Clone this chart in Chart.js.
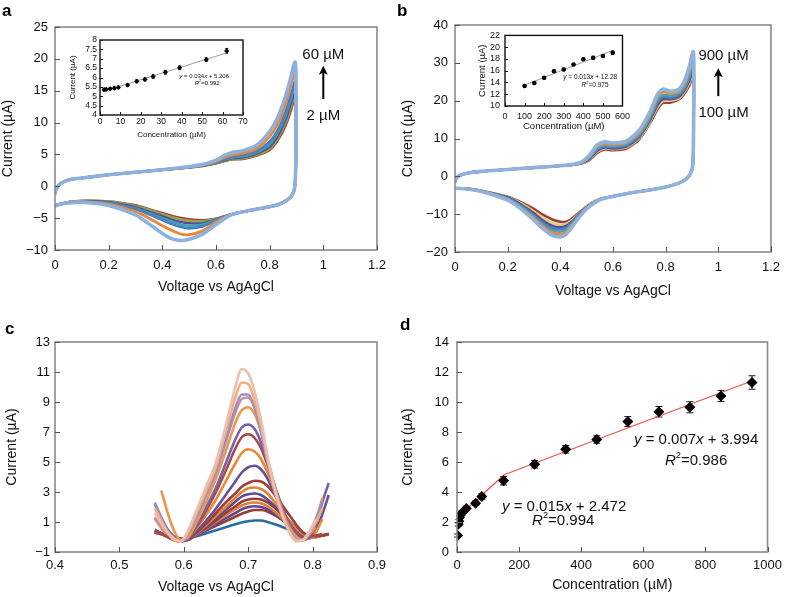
<!DOCTYPE html>
<html>
<head>
<meta charset="utf-8">
<script src="https://cdn.jsdelivr.net/npm/chart.js@4.4.0/dist/chart.umd.min.js"></script>
<style>
  body { margin: 0; background: #fff; width: 788px; height: 597px; overflow: hidden; position: relative; }
  canvas { position: absolute; }
  .lettre { position: absolute; font: bold 17px 'Liberation Sans', Arial, sans-serif; color: #000; line-height: 1; }
</style>
</head>
<body>
<canvas id="pa" width="394" height="300" style="left:0;top:0"></canvas>
<canvas id="pb" width="394" height="300" style="left:394px;top:0"></canvas>
<canvas id="pc" width="394" height="297" style="left:0;top:300px"></canvas>
<canvas id="pd" width="394" height="297" style="left:394px;top:300px"></canvas>
<canvas id="ia" width="190" height="115" style="left:60px;top:30px"></canvas>
<canvas id="ib" width="170" height="110" style="left:465px;top:25px"></canvas>
<div class="lettre" style="left:2px;top:2px">a</div>
<div class="lettre" style="left:397px;top:2px">b</div>
<div class="lettre" style="left:5px;top:320px">c</div>
<div class="lettre" style="left:400px;top:316px">d</div>
<script>
// ── DONNÉES PANNEAU A (voltammétrie cyclique, 2 → 60 µM) ──
const aValler  = [0, 0.005, 0.02, 0.05, 0.1, 0.2, 0.3, 0.4, 0.5, 0.55, 0.6, 0.63, 0.66, 0.7, 0.75, 0.8, 0.83, 0.86, 0.88, 0.89, 0.895];
const aVretour = [0.898, 0.898, 0.895, 0.89, 0.88, 0.86, 0.83, 0.8, 0.75, 0.7, 0.65, 0.6, 0.55, 0.5, 0.47, 0.44, 0.4, 0.35, 0.3, 0.2, 0.1, 0.05, 0.02, 0];
const aBleuClair_aller  = [-1.3, -0.4, 0.4, 1.0, 1.3, 1.8, 2.2, 2.6, 3.1, 3.4, 4.1, 4.8, 5.3, 5.6, 6.4, 8.6, 10.8, 14.2, 17.3, 19.0, 19.5];
const aBleuClair_retour = [17.5, 6.0, 0.5, -0.8, -1.6, -2.3, -2.9, -3.2, -3.6, -4.0, -4.6, -6.0, -7.5, -8.3, -8.5, -8.3, -7.4, -5.9, -4.5, -3.0, -2.5, -2.6, -2.8, -3.1];
const aOrange_aller  = [-1.2, -0.4, 0.4, 1.0, 1.3, 1.8, 2.2, 2.6, 3.05, 3.35, 3.9, 4.5, 4.9, 5.2, 5.9, 7.8, 9.8, 13.0, 15.9, 17.5, 18.0];
const aOrange_retour = [16.0, 5.5, 0.5, -0.8, -1.6, -2.3, -2.9, -3.2, -3.6, -4.0, -4.5, -5.6, -7.0, -7.6, -7.5, -7.0, -6.2, -5.0, -4.0, -2.8, -2.4, -2.5, -2.8, -3.0];
const aBleu_aller  = [-1.2, -0.4, 0.4, 1.0, 1.3, 1.8, 2.2, 2.6, 3.0, 3.3, 3.8, 4.3, 4.6, 4.9, 5.5, 7.0, 8.8, 11.8, 14.5, 16.0, 16.5];
const aBleu_retour = [14.5, 5.0, 0.5, -0.8, -1.6, -2.3, -2.9, -3.2, -3.6, -4.0, -4.5, -5.4, -6.3, -6.6, -6.4, -6.0, -5.3, -4.4, -3.6, -2.6, -2.4, -2.5, -2.8, -3.0];
const aTurquoise_aller  = [-1.2, -0.4, 0.4, 1.0, 1.3, 1.8, 2.2, 2.6, 3.0, 3.3, 3.75, 4.2, 4.5, 4.7, 5.3, 6.6, 8.4, 11.2, 13.8, 15.3, 15.8];
const aTurquoise_retour = [13.8, 4.8, 0.5, -0.8, -1.6, -2.3, -2.9, -3.2, -3.6, -4.0, -4.5, -5.3, -6.0, -6.2, -6.0, -5.6, -5.0, -4.2, -3.5, -2.6, -2.4, -2.5, -2.8, -3.0];
const aViolet_aller  = [-1.2, -0.4, 0.4, 1.0, 1.3, 1.8, 2.2, 2.6, 3.0, 3.25, 3.7, 4.1, 4.4, 4.55, 5.1, 6.2, 7.9, 10.6, 13.1, 14.6, 15.0];
const aViolet_retour = [13.0, 4.5, 0.5, -0.8, -1.6, -2.3, -2.9, -3.2, -3.6, -4.0, -4.5, -5.2, -5.8, -5.8, -5.6, -5.3, -4.7, -4.0, -3.3, -2.5, -2.3, -2.5, -2.8, -3.0];
const aVert_aller  = [-1.2, -0.4, 0.4, 1.0, 1.3, 1.8, 2.2, 2.6, 2.95, 3.2, 3.6, 4.0, 4.25, 4.4, 4.9, 5.9, 7.5, 10.0, 12.5, 14.0, 14.4];
const aVert_retour = [12.5, 4.3, 0.5, -0.8, -1.6, -2.3, -2.9, -3.2, -3.6, -4.0, -4.5, -5.1, -5.5, -5.4, -5.2, -4.9, -4.4, -3.7, -3.1, -2.4, -2.3, -2.5, -2.8, -3.0];
const aRouge_aller  = [-1.2, -0.4, 0.4, 1.0, 1.3, 1.8, 2.2, 2.6, 2.95, 3.2, 3.6, 3.95, 4.2, 4.3, 4.8, 5.7, 7.2, 9.6, 12.0, 13.5, 13.9];
const aRouge_retour = [12.0, 4.0, 0.5, -0.8, -1.6, -2.3, -2.9, -3.2, -3.6, -4.0, -4.5, -5.1, -5.35, -5.2, -5.0, -4.7, -4.2, -3.6, -3.0, -2.4, -2.3, -2.5, -2.8, -3.0];
const aTicksX = [0, 0.2, 0.4, 0.6, 0.8, 1, 1.2];
const aTicksY = [-10, -5, 0, 5, 10, 15, 20, 25];

// ── DONNÉES PANNEAU B (100 → 900 µM) ──
const bValler  = [0, 0.005, 0.02, 0.05, 0.1, 0.2, 0.3, 0.4, 0.45, 0.48, 0.51, 0.54, 0.57, 0.6, 0.65, 0.7, 0.74, 0.77, 0.79, 0.82, 0.85, 0.87, 0.89, 0.9, 0.905];
const bVretour = [0.907, 0.906, 0.903, 0.895, 0.88, 0.85, 0.8, 0.75, 0.7, 0.65, 0.6, 0.55, 0.5, 0.47, 0.44, 0.42, 0.4, 0.37, 0.33, 0.3, 0.25, 0.2, 0.1, 0.05, 0.02, 0];
const bBleuClair_aller  = [-1.5, -0.5, 0.3, 0.9, 1.3, 1.8, 2.3, 2.8, 3.2, 3.8, 5.5, 8.3, 9.1, 8.8, 9.3, 12.2, 17.0, 21.8, 23.1, 22.5, 23.0, 25.0, 29.0, 32.0, 33.0];
const bBleuClair_retour = [30, 12, 3, 0.8, -0.6, -1.8, -2.8, -3.5, -4.0, -4.6, -5.3, -6.2, -8.6, -11.0, -13.8, -15.4, -16.0, -15.6, -13.6, -11.6, -8.6, -6.3, -4.0, -3.4, -3.2, -3.2];
const bOrange_aller  = [-1.5, -0.5, 0.3, 0.9, 1.3, 1.8, 2.3, 2.8, 3.2, 3.7, 5.2, 7.9, 8.6, 8.4, 8.9, 11.6, 16.3, 21.0, 22.3, 21.9, 22.4, 24.2, 27.8, 30.5, 31.3];
const bOrange_retour = [28.5, 11.5, 3, 0.8, -0.6, -1.8, -2.8, -3.5, -4.0, -4.6, -5.3, -6.2, -8.5, -10.8, -13.3, -14.8, -15.2, -14.9, -13.0, -11.1, -8.3, -6.1, -3.9, -3.4, -3.2, -3.2];
const bTurquoise_aller  = [-1.5, -0.5, 0.3, 0.9, 1.3, 1.8, 2.3, 2.8, 3.15, 3.6, 5.0, 7.5, 8.2, 8.0, 8.5, 11.1, 15.6, 20.2, 21.5, 21.3, 21.9, 23.5, 26.8, 29.4, 30.1];
const bTurquoise_retour = [27.5, 11, 3, 0.8, -0.6, -1.8, -2.8, -3.5, -4.0, -4.6, -5.3, -6.1, -8.4, -10.6, -12.9, -14.2, -14.6, -14.3, -12.6, -10.7, -8.0, -5.9, -3.9, -3.4, -3.2, -3.2];
const bBleu_aller  = [-1.5, -0.5, 0.3, 0.9, 1.3, 1.8, 2.3, 2.8, 3.15, 3.55, 4.8, 7.1, 7.9, 7.7, 8.2, 10.7, 15.1, 19.6, 21.0, 20.8, 21.4, 23.0, 26.0, 28.4, 29.0];
const bBleu_retour = [26.5, 11, 3, 0.8, -0.6, -1.8, -2.8, -3.5, -4.0, -4.6, -5.3, -6.1, -8.3, -10.4, -12.5, -13.7, -14.0, -13.7, -12.1, -10.3, -7.7, -5.8, -3.9, -3.4, -3.2, -3.2];
const bViolet_aller  = [-1.5, -0.5, 0.3, 0.9, 1.3, 1.8, 2.3, 2.8, 3.1, 3.5, 4.6, 6.8, 7.6, 7.4, 7.9, 10.4, 14.7, 19.0, 20.4, 20.4, 21.0, 22.6, 25.3, 27.6, 28.1];
const bViolet_retour = [25.8, 10.5, 3, 0.8, -0.6, -1.8, -2.8, -3.5, -4.0, -4.6, -5.3, -6.1, -8.2, -10.2, -12.2, -13.2, -13.5, -13.1, -11.5, -9.8, -7.4, -5.6, -3.8, -3.3, -3.2, -3.2];
const bJaune_aller  = [-1.5, -0.5, 0.3, 0.9, 1.3, 1.8, 2.3, 2.8, 3.1, 3.45, 4.45, 6.5, 7.35, 7.2, 7.6, 10.1, 14.3, 18.4, 19.9, 20.0, 20.6, 22.2, 24.7, 26.8, 27.2];
const bJaune_retour = [25, 10.5, 2.8, 0.8, -0.6, -1.8, -2.8, -3.5, -4.0, -4.6, -5.3, -6.0, -8.0, -10.0, -11.8, -12.6, -12.8, -12.4, -10.8, -9.3, -7.1, -5.5, -3.8, -3.3, -3.2, -3.2];
const bRouge_aller  = [-1.5, -0.5, 0.3, 0.9, 1.3, 1.8, 2.3, 2.8, 3.1, 3.4, 4.3, 6.2, 7.1, 6.9, 7.3, 9.8, 14.0, 17.8, 19.4, 19.5, 20.3, 21.8, 24.0, 25.8, 26.3];
const bRouge_retour = [24.0, 10.0, 2.5, 0.8, -0.6, -1.8, -2.8, -3.5, -4.0, -4.6, -5.3, -6.0, -7.9, -9.7, -11.4, -12.0, -12.0, -11.4, -10.0, -8.6, -6.8, -5.4, -3.8, -3.3, -3.2, -3.2];
const bTicksX = [0, 0.2, 0.4, 0.6, 0.8, 1, 1.2];
const bTicksY = [-20, -10, 0, 10, 20, 30, 40];

// ── DONNÉES PANNEAU C (voltammétrie différentielle) ──
const cV = [0.555, 0.565, 0.575, 0.585, 0.595, 0.605, 0.62, 0.635, 0.65, 0.665, 0.68, 0.69, 0.70, 0.71, 0.72, 0.73, 0.745, 0.76, 0.775, 0.785, 0.795, 0.805, 0.815, 0.825];
const c17 = [1.6, 0.9, 0.3, -0.1, -0.3, 0.3, 1.8, 3.4, 5.0, 7.4, 10.0, 11.2, 10.9, 9.7, 7.8, 5.4, 2.6, 0.7, -0.3, -0.2, 0.4, 1.2, null, null];
const c16 = [1.9, 1.1, 0.3, -0.2, -0.3, 0.2, 1.6, 3.1, 4.7, 7.0, 9.3, 10.3, 10.2, 9.1, 7.4, 5.2, 2.5, 0.7, -0.2, -0.2, 0.3, 1.0, 1.9, null];
const c15 = [2.3, 1.3, 0.4, -0.1, -0.3, 0.1, 1.4, 2.9, 4.4, 6.5, 8.6, 9.5, 9.5, 8.6, 7.0, 5.0, 2.4, 0.7, -0.2, -0.2, 0.3, 1.2, 2.4, null];
const c14 = [1.2, 0.7, 0.2, -0.2, -0.3, 0.1, 1.3, 2.8, 4.3, 6.3, 8.3, 9.2, 9.3, 8.6, 7.1, 5.2, 2.6, 0.8, -0.1, -0.2, 0.2, 0.6, null, null];
const c13 = [null, 3.1, 1.6, 0.4, -0.2, -0.1, 1.0, 2.4, 3.9, 5.7, 7.6, 8.45, 8.65, 8.2, 7.0, 5.3, 2.8, 1.0, 0.0, -0.2, 0.2, 1.0, 2.6, null];
const c12 = [2.2, 1.3, 0.5, 0.0, -0.3, -0.1, 0.8, 2.0, 3.3, 4.9, 6.5, 7.3, 7.5, 7.2, 6.3, 5.0, 2.9, 1.2, 0.1, -0.2, 0.0, 0.8, 2.3, 3.6];
const c11 = [0.4, 0.2, 0.0, -0.2, -0.3, -0.1, 0.7, 1.8, 3.0, 4.4, 5.9, 6.65, 6.85, 6.6, 5.9, 4.8, 2.9, 1.2, 0.2, -0.1, 0.0, 0.1, 0.2, null];
const c10 = [1.3, 0.6, 0.1, -0.2, -0.3, -0.1, 0.6, 1.5, 2.5, 3.7, 4.9, 5.6, 5.85, 5.7, 5.2, 4.3, 2.7, 1.2, 0.2, -0.1, -0.1, 0.3, 1.2, null];
const c09 = [0.5, 0.25, 0.0, -0.2, -0.3, -0.2, 0.4, 1.1, 1.9, 2.8, 3.7, 4.3, 4.65, 4.75, 4.5, 3.9, 2.5, 1.2, 0.3, 0.0, -0.1, 0.4, 1.5, 2.8];
const c08 = [0.4, 0.25, 0.05, -0.1, -0.2, -0.2, 0.3, 0.9, 1.6, 2.3, 2.9, 3.35, 3.6, 3.75, 3.7, 3.4, 2.6, 1.7, 0.8, 0.3, 0.1, 0.05, 0.1, 0.2];
const c07 = [0.4, 0.2, 0.05, -0.1, -0.2, -0.2, 0.25, 0.8, 1.4, 2.0, 2.6, 3.0, 3.25, 3.3, 3.2, 2.9, 2.1, 1.3, 0.5, 0.15, 0.0, 0.0, 0.1, 0.2];
const c06 = [0.35, 0.2, 0.05, -0.1, -0.2, -0.2, 0.2, 0.7, 1.25, 1.8, 2.35, 2.7, 2.85, 2.9, 2.8, 2.5, 1.9, 1.2, 0.5, 0.15, 0.0, 0.0, 0.1, 0.2];
const c05 = [0.3, 0.2, 0.1, 0.0, -0.2, -0.2, 0.2, 0.6, 1.1, 1.6, 2.05, 2.35, 2.5, 2.55, 2.5, 2.3, 1.8, 1.2, 0.6, 0.25, 0.1, 0.05, 0.1, 0.2];
const c04 = [0.3, 0.2, 0.1, 0.0, -0.2, -0.2, 0.15, 0.55, 1.0, 1.45, 1.85, 2.1, 2.25, 2.3, 2.25, 2.05, 1.55, 0.95, 0.4, 0.1, 0.0, 0.0, 0.1, 0.2];
const c03 = [0.3, 0.2, 0.1, 0.0, -0.15, -0.15, 0.1, 0.45, 0.85, 1.25, 1.6, 1.85, 2.0, 2.05, 2.0, 1.85, 1.4, 0.9, 0.4, 0.15, 0.0, 0.0, 0.1, 0.15];
const c02 = [0.3, 0.25, 0.1, 0.0, -0.1, -0.1, 0.15, 0.45, 0.75, 1.05, 1.35, 1.55, 1.7, 1.8, 1.8, 1.7, 1.35, 0.95, 0.5, 0.25, 0.1, 0.05, 0.1, 0.2];
const c01 = [null, null, null, null, null, -0.05, 0.05, 0.25, 0.45, 0.65, 0.85, 0.97, 1.05, 1.1, 1.1, 1.0, 0.8, 0.55, 0.3, 0.15, null, null, null, null];
const cTicksX = [0.4, 0.5, 0.6, 0.7, 0.8, 0.9];
const cTicksY = [-1, 1, 3, 5, 7, 9, 11, 13];

// ── DONNÉES PANNEAU D (étalonnage) ──
const dConc    = [2, 4, 6, 8, 10, 15, 30, 60, 80, 150, 250, 350, 450, 550, 650, 750, 850, 950];
const dCourant = [1.1, 1.85, 2.05, 2.3, 2.45, 2.6, 2.9, 3.25, 3.7, 4.75, 5.85, 6.85, 7.5, 8.7, 9.35, 9.65, 10.4, 11.3];
const dErreur  = [0.1, 0.12, 0.12, 0.12, 0.12, 0.12, 0.15, 0.15, 0.18, 0.28, 0.25, 0.25, 0.25, 0.33, 0.35, 0.37, 0.37, 0.45];
const dFit1X = [25, 152];
const dFit1Y = [2.75, 5.15];
const dFit2X = [152, 955];
const dFit2Y = [5.15, 11.45];
const dTicksX = [0, 200, 400, 600, 800, 1000];
const dTicksY = [0, 2, 4, 6, 8, 10, 12, 14];

// ── DONNÉES ENCARTS ──
const iaConc    = [2, 3, 5, 7, 9, 13.5, 18, 22, 26, 32, 39, 52, 62];
const iaCourant = [5.35, 5.37, 5.4, 5.43, 5.47, 5.6, 5.8, 5.9, 6.05, 6.28, 6.52, 6.95, 7.42];
const iaErreur  = [0.06, 0.06, 0.06, 0.06, 0.06, 0.08, 0.08, 0.08, 0.09, 0.1, 0.1, 0.1, 0.13];
const iaFitX = [2, 62];
const iaFitY = [5.27, 7.31];
const iaTicksX = [0, 10, 20, 30, 40, 50, 60, 70];
const iaTicksY = [4, 4.5, 5, 5.5, 6, 6.5, 7, 7.5, 8];

const ibConc    = [100, 150, 200, 250, 300, 350, 400, 450, 500, 550];
const ibCourant = [13.4, 13.9, 14.8, 15.9, 16.2, 17.05, 17.95, 18.2, 18.5, 19.05];
const ibErreur  = [0.2, 0.2, 0.2, 0.2, 0.2, 0.2, 0.2, 0.25, 0.25, 0.3];
const ibFitX = [100, 550];
const ibFitY = [13.55, 19.45];
const ibTicksX = [0, 100, 200, 300, 400, 500, 600];
const ibTicksY = [10, 12, 14, 16, 18, 20, 22];

// ── STYLE ──
const POLICE = "'Liberation Sans', Arial, Helvetica, sans-serif";
const TEXTE = '#111';

function formater(v) {
  return String(Math.round(v * 1000) / 1000).replace('-', '\u2212');
}

function points(xs, ys) {
  return xs.map((x, i) => ({ x: x, y: ys[i] })).filter(p => p.y !== null);
}

function courbeCV(vAller, vRetour, aller, retour, couleur, epaisseur) {
  return {
    data: points(vAller.concat(vRetour), aller.concat(retour)),
    showLine: true, borderColor: couleur, borderWidth: epaisseur,
    pointRadius: 0, tension: 0.25, fill: false
  };
}

function courbeDPV(ys, couleur) {
  return {
    data: points(cV, ys), showLine: true, borderColor: couleur, borderWidth: 2.6,
    pointRadius: 0, cubicInterpolationMode: 'monotone', fill: false
  };
}

function droite(xs, ys, couleur, epaisseur) {
  return { data: points(xs, ys), showLine: true, borderColor: couleur, borderWidth: epaisseur, pointRadius: 0 };
}

function nuage(xs, ys, erreurs, style, rayon) {
  return {
    data: points(xs, ys), erreurs: erreurs, showLine: false,
    pointStyle: style, pointRadius: rayon, backgroundColor: '#000', borderColor: '#000', borderWidth: 0
  };
}

// Axe avec ticks imposés et taille fixe (pour placer la zone de tracé au pixel près)
function echelle(c) {
  const horiz = c.position === 'bottom';
  return {
    type: 'linear', position: c.position,
    min: c.ticks[0], max: c.ticks[c.ticks.length - 1],
    afterBuildTicks: s => { s.ticks = c.ticks.map(v => ({ value: v })); },
    afterFit: s => { if (horiz) s.height = c.taille; else s.width = c.taille; },
    grid: { display: false, drawTicks: false },
    border: { display: false },
    ticks: {
      color: TEXTE, autoSkip: false, maxRotation: 0,
      font: { family: POLICE, size: c.police }, padding: c.padTicks,
      callback: v => formater(v)
    },
    title: {
      display: true, text: c.titre, color: TEXTE,
      font: { family: POLICE, size: c.policeTitre },
      padding: horiz ? { top: 0, bottom: c.padTitre } : { top: c.padTitre, bottom: 0 }
    }
  };
}

// Texte avec morceaux italiques / exposants
function texteMixte(ctx, x, y, morceaux, taille) {
  const fonte = st => (st === 'i' ? 'italic ' : '') + (st === 's' ? taille * 0.62 : taille) + 'px ' + POLICE;
  let total = 0;
  morceaux.forEach(m => { ctx.font = fonte(m[1]); total += ctx.measureText(m[0]).width; });
  let cx = x - total / 2;
  ctx.textAlign = 'left';
  ctx.textBaseline = 'middle';
  ctx.fillStyle = TEXTE;
  morceaux.forEach(m => {
    ctx.font = fonte(m[1]);
    ctx.fillText(m[0], cx, m[1] === 's' ? y - taille * 0.33 : y);
    cx += ctx.measureText(m[0]).width;
  });
}

// Cadre, ticks intérieurs, barres d'erreur, annotations
function decor(cfg) {
  return {
    id: 'decor',
    beforeDatasetsDraw(chart) {
      const { ctx, scales: { y } } = chart;
      ctx.save();
      ctx.strokeStyle = '#1a1a1a';
      ctx.lineWidth = cfg.epErreur || 1;
      chart.data.datasets.forEach((ds, i) => {
        if (!ds.erreurs) return;
        chart.getDatasetMeta(i).data.forEach((pt, j) => {
          const v = ds.data[j].y, e = ds.erreurs[j];
          const y1 = y.getPixelForValue(v - e), y2 = y.getPixelForValue(v + e);
          const c = cfg.chapeau;
          ctx.beginPath();
          ctx.moveTo(pt.x, y1); ctx.lineTo(pt.x, y2);
          ctx.moveTo(pt.x - c, y1); ctx.lineTo(pt.x + c, y1);
          ctx.moveTo(pt.x - c, y2); ctx.lineTo(pt.x + c, y2);
          ctx.stroke();
        });
      });
      ctx.restore();
    },
    afterDraw(chart) {
      const { ctx, chartArea: a, scales: { x, y } } = chart;
      ctx.save();
      ctx.strokeStyle = cfg.couleurCadre;
      ctx.lineWidth = cfg.epCadre;
      ctx.strokeRect(a.left, a.top, a.right - a.left, a.bottom - a.top);
      ctx.strokeStyle = cfg.couleurTick;
      ctx.lineWidth = 1;
      ctx.beginPath();
      x.ticks.forEach(t => {
        const px = Math.round(x.getPixelForValue(t.value)) + 0.5;
        ctx.moveTo(px, a.bottom); ctx.lineTo(px, a.bottom - cfg.tick);
      });
      y.ticks.forEach(t => {
        const py = Math.round(y.getPixelForValue(t.value)) + 0.5;
        ctx.moveTo(a.left, py); ctx.lineTo(a.left + cfg.tick, py);
      });
      ctx.stroke();
      (cfg.fleches || []).forEach(f => {
        const fx = x.getPixelForValue(f.x), yb = y.getPixelForValue(f.y1), yh = y.getPixelForValue(f.y2);
        ctx.strokeStyle = '#000'; ctx.fillStyle = '#000'; ctx.lineWidth = 2;
        ctx.beginPath(); ctx.moveTo(fx, yb); ctx.lineTo(fx, yh + 6); ctx.stroke();
        ctx.beginPath(); ctx.moveTo(fx, yh); ctx.lineTo(fx - 4.5, yh + 9); ctx.lineTo(fx, yh + 7); ctx.lineTo(fx + 4.5, yh + 9); ctx.closePath(); ctx.fill();
      });
      (cfg.textes || []).forEach(t => {
        texteMixte(ctx, x.getPixelForValue(t.x), y.getPixelForValue(t.y), t.morceaux, t.taille);
      });
      ctx.restore();
    }
  };
}

function creer(id, datasets, sx, sy, padding, cfg) {
  return new Chart(document.getElementById(id), {
    type: 'scatter',
    data: { datasets: datasets },
    options: {
      responsive: false, devicePixelRatio: 1, animation: false,
      layout: { padding: padding },
      plugins: { legend: { display: false }, tooltip: { enabled: false } },
      scales: { x: sx, y: sy }
    },
    plugins: [decor(cfg)]
  });
}

const CADRE_GRIS = { couleurCadre: '#8a8a8a', epCadre: 1.6, couleurTick: '#555', tick: 5 };
const CADRE_NOIR = { couleurCadre: '#111', epCadre: 1.4, couleurTick: '#111', tick: 3 };

// ── PANNEAU A ──
creer('pa', [
  courbeCV(aValler, aVretour, aBleuClair_aller, aBleuClair_retour, '#8db1de', 3.6),
  courbeCV(aValler, aVretour, aOrange_aller, aOrange_retour, '#e8873a', 2.8),
  courbeCV(aValler, aVretour, aBleu_aller, aBleu_retour, '#4a7cc0', 2.6),
  courbeCV(aValler, aVretour, aTurquoise_aller, aTurquoise_retour, '#3f9eb3', 2.6),
  courbeCV(aValler, aVretour, aViolet_aller, aViolet_retour, '#5b4a95', 2.6),
  courbeCV(aValler, aVretour, aVert_aller, aVert_retour, '#8aa84a', 2.6),
  courbeCV(aValler, aVretour, aRouge_aller, aRouge_retour, '#a83e3a', 2.6)
],
  echelle({ position: 'bottom', ticks: aTicksX, taille: 50, police: 13, padTicks: 8, titre: 'Voltage vs AgAgCl', policeTitre: 14, padTitre: 4 }),
  echelle({ position: 'left', ticks: aTicksY, taille: 55, police: 13, padTicks: 7, titre: 'Current (\u00b5A)', policeTitre: 14, padTitre: 0 }),
  { left: 0, top: 27, right: 16, bottom: 0 },
  Object.assign({}, CADRE_GRIS, {
    fleches: [{ x: 1.0, y1: 13.7, y2: 18.9 }],
    textes: [
      { x: 1.0, y: 20.6, taille: 15, morceaux: [['60 \u00b5M', '']] },
      { x: 1.0, y: 11.0, taille: 15, morceaux: [['2 \u00b5M', '']] }
    ]
  })
);

// ── PANNEAU B ──
creer('pb', [
  courbeCV(bValler, bVretour, bBleuClair_aller, bBleuClair_retour, '#8fb2de', 3.6),
  courbeCV(bValler, bVretour, bOrange_aller, bOrange_retour, '#e8893c', 2.6),
  courbeCV(bValler, bVretour, bTurquoise_aller, bTurquoise_retour, '#45a3b5', 2.6),
  courbeCV(bValler, bVretour, bBleu_aller, bBleu_retour, '#4f7ec0', 2.6),
  courbeCV(bValler, bVretour, bViolet_aller, bViolet_retour, '#5d4b96', 2.6),
  courbeCV(bValler, bVretour, bJaune_aller, bJaune_retour, '#d9d27a', 2.6),
  courbeCV(bValler, bVretour, bRouge_aller, bRouge_retour, '#a63c3a', 2.6)
],
  echelle({ position: 'bottom', ticks: bTicksX, taille: 48, police: 13, padTicks: 8, titre: 'Voltage vs AgAgCl', policeTitre: 14, padTitre: 0 }),
  echelle({ position: 'left', ticks: bTicksY, taille: 61, police: 13, padTicks: 7, titre: 'Current (\u00b5A)', policeTitre: 14, padTitre: 6 }),
  { left: 0, top: 25, right: 13, bottom: 0 },
  Object.assign({}, CADRE_GRIS, {
    fleches: [{ x: 1.0, y1: 21.2, y2: 28.6 }],
    textes: [
      { x: 1.02, y: 31.9, taille: 15, morceaux: [['900 \u00b5M', '']] },
      { x: 1.02, y: 16.9, taille: 15, morceaux: [['100 \u00b5M', '']] }
    ]
  })
);

// ── PANNEAU C ──
creer('pc', [
  courbeDPV(c17, '#ecbfb3'),
  courbeDPV(c16, '#f2ae78'),
  courbeDPV(c15, '#9d8fc4'),
  courbeDPV(c14, '#c88f98'),
  courbeDPV(c13, '#ec984a'),
  courbeDPV(c12, '#7662a8'),
  courbeDPV(c11, '#a84848'),
  courbeDPV(c10, '#e68a36'),
  courbeDPV(c09, '#65519b'),
  courbeDPV(c08, '#a03e3e'),
  courbeDPV(c07, '#e2842f'),
  courbeDPV(c06, '#5d4a93'),
  courbeDPV(c05, '#9e3b3b'),
  courbeDPV(c04, '#e0822f'),
  courbeDPV(c03, '#5b4891'),
  courbeDPV(c02, '#9b3838'),
  courbeDPV(c01, '#2b6ca3')
],
  echelle({ position: 'bottom', ticks: cTicksX, taille: 45, police: 13, padTicks: 6, titre: 'Voltage vs AgAgCl', policeTitre: 14, padTitre: 1 }),
  echelle({ position: 'left', ticks: cTicksY, taille: 55, police: 13, padTicks: 5, titre: 'Current (\u00b5A)', policeTitre: 14, padTitre: 4 }),
  { left: 0, top: 42, right: 17, bottom: 0 },
  CADRE_GRIS
);

// ── PANNEAU D ──
creer('pd', [
  nuage(dConc, dCourant, dErreur, 'rectRot', 5.5),
  droite(dFit1X, dFit1Y, '#e8554e', 1.3),
  droite(dFit2X, dFit2Y, '#e8554e', 1.3)
],
  echelle({ position: 'bottom', ticks: dTicksX, taille: 45, police: 13, padTicks: 6, titre: 'Concentration (\u00b5M)', policeTitre: 14, padTitre: 3 }),
  echelle({ position: 'left', ticks: dTicksY, taille: 63, police: 13, padTicks: 8, titre: 'Current (\u00b5A)', policeTitre: 14, padTitre: 6 }),
  { left: 0, top: 42, right: 15, bottom: 0 },
  Object.assign({}, CADRE_GRIS, {
    chapeau: 3.5,
    textes: [
      { x: 345, y: 3.0, taille: 15, morceaux: [['y', 'i'], [' = 0.015', ''], ['x', 'i'], [' + 2.472', '']] },
      { x: 342, y: 2.1, taille: 15, morceaux: [['R', 'i'], ['2', 's'], ['=0.994', '']] },
      { x: 770, y: 7.45, taille: 15, morceaux: [['y', 'i'], [' = 0.007', ''], ['x', 'i'], [' + 3.994', '']] },
      { x: 770, y: 6.1, taille: 15, morceaux: [['R', 'i'], ['2', 's'], ['=0.986', '']] }
    ]
  })
);

// ── ENCART A ──
creer('ia', [
  nuage(iaConc, iaCourant, iaErreur, 'rectRot', 2.6),
  droite(iaFitX, iaFitY, '#9a9a9a', 1)
],
  echelle({ position: 'bottom', ticks: iaTicksX, taille: 30, police: 8.5, padTicks: 2, titre: 'Concentration (\u00b5M)', policeTitre: 8, padTitre: 5 }),
  echelle({ position: 'left', ticks: iaTicksY, taille: 40, police: 8.5, padTicks: 3, titre: 'Current (\u00b5A)', policeTitre: 8, padTitre: 8 }),
  { left: 0, top: 10, right: 7, bottom: 0 },
  Object.assign({}, CADRE_NOIR, {
    chapeau: 1.5,
    textes: [
      { x: 51, y: 6.08, taille: 6, morceaux: [['y', 'i'], [' = 0.034', ''], ['x', 'i'], [' + 5.206', '']] },
      { x: 52.5, y: 5.7, taille: 6, morceaux: [['R', 'i'], ['2', 's'], ['=0.992', '']] }
    ]
  })
);

// ── ENCART B ──
creer('ib', [
  nuage(ibConc, ibCourant, ibErreur, 'circle', 2.3),
  droite(ibFitX, ibFitY, '#9a9a9a', 1)
],
  echelle({ position: 'bottom', ticks: ibTicksX, taille: 29, police: 9, padTicks: 5, titre: 'Concentration (\u00b5M)', policeTitre: 9.5, padTitre: 2.5 }),
  echelle({ position: 'left', ticks: ibTicksY, taille: 40, police: 9, padTicks: 5, titre: 'Current (\u00b5A)', policeTitre: 9.5, padTitre: 12 }),
  { left: 0, top: 10, right: 10, bottom: 0 },
  Object.assign({}, CADRE_NOIR, {
    chapeau: 1.5,
    textes: [
      { x: 435, y: 14.9, taille: 6.5, morceaux: [['y', 'i'], [' = 0.013', ''], ['x', 'i'], [' + 12.28', '']] },
      { x: 460, y: 13.55, taille: 6.5, morceaux: [['R', 'i'], ['2', 's'], ['=0.975', '']] }
    ]
  })
);
</script>
</body>
</html>
